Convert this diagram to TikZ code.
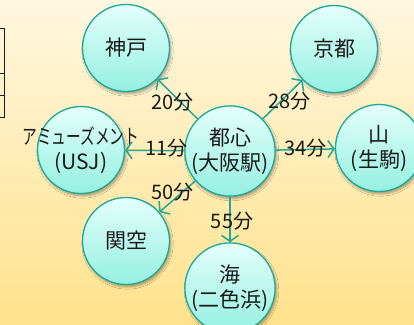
\documentclass[tikz,border=0pt]{standalone}
\usepackage{fontspec}
\setmainfont{Noto Sans CJK JP}
\usepackage{xcolor}
\definecolor{ringline}{RGB}{30, 168, 152}
\definecolor{balltop}{RGB}{228, 255, 251}
\definecolor{ballbottom}{RGB}{148, 240, 224}
\definecolor{bgtop}{RGB}{255, 247, 224}
\definecolor{bgbottom}{RGB}{255, 226, 140}
\definecolor{inktext}{RGB}{26, 26, 26}
\usetikzlibrary{arrows.meta,shadows.blur}

\begin{document}
\begin{tikzpicture}[
  x=1pt, y=-1pt,
  spot/.style={circle, draw=ringline, line width=1.3pt, top color=balltop, bottom color=ballbottom, minimum size=87pt, inner sep=0pt, align=center, text=inktext, font=\fontsize{21}{25}\selectfont, blur shadow={shadow xshift=1.5pt, shadow yshift=-2.5pt, shadow blur steps=6, shadow opacity=35}},
  arrow/.style={-{Straight Barb[length=6pt,width=17pt]}, line width=1.5pt, color=ringline},
  timelabel/.style={text=inktext, font=\fontsize{20}{24}\selectfont}
]
\useasboundingbox (0,0) rectangle (414,324);
\fill[top color=bgtop, bottom color=bgbottom] (0,0) rectangle (414,324);

% table edge at the left
\draw[line width=1pt, inktext] (0,28) -- (4,28) -- (4,117) -- (0,117)
  (0,73) -- (4,73) (0,95) -- (4,95);

\node[spot] (hub) at (230,151) {都心\\(大阪駅)};
\node[spot] (kobe) at (126,48) {神戸};
\node[spot] (kyoto) at (334,49) {京都};
\node[spot] (amuse) at (81,150) {\makebox[0pt]{\scalebox{0.7}[1]{アミューズメント}}\\(USJ)};
\node[spot] (yama) at (379,148) {山\\(生駒)};
\node[spot] (kanku) at (126,241) {関空};
\node[spot] (umi) at (230,288) {海\\(二色浜)};

\draw[arrow] (hub) -- node[timelabel, xshift=-5pt, yshift=-3pt] {20分} (kobe);
\draw[arrow] (hub) -- node[timelabel, xshift=7pt, yshift=-2pt] {28分} (kyoto);
\draw[arrow] (hub) -- node[timelabel, pos=0.3, yshift=2pt] {11分} (amuse);
\draw[arrow] (hub) -- node[timelabel, yshift=1pt] {34分} (yama);
\draw[arrow] (hub) -- node[timelabel, xshift=-5pt, yshift=4pt] {50分} (kanku);
\draw[arrow] (hub) -- node[timelabel, xshift=2pt, yshift=-2pt] {55分} (umi);
\end{tikzpicture}
\end{document}
